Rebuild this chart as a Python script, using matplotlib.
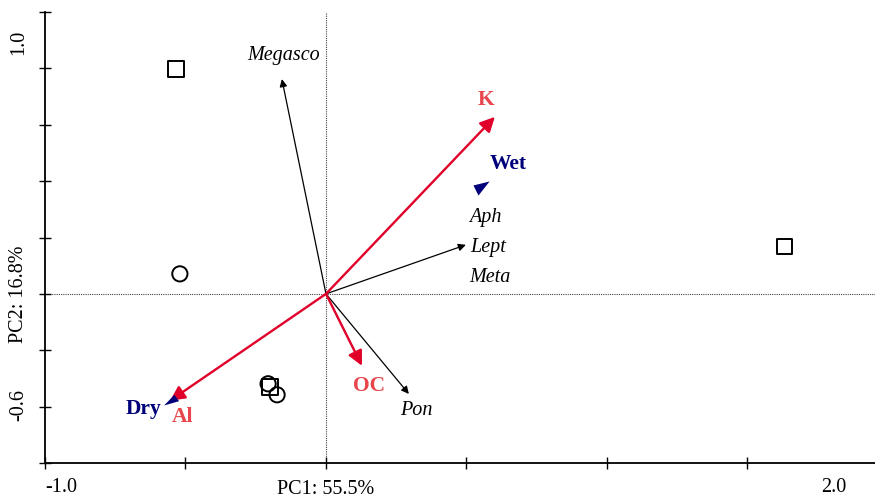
import matplotlib
matplotlib.use("Agg")
import matplotlib.pyplot as plt

plt.rcParams['font.family'] = ['Liberation Serif', 'DejaVu Serif']

# sample scores
square_x = [-0.534, 1.633, -0.199]
square_y = [0.798, 0.167, -0.330]
circle_x = [-0.520, -0.206, -0.174]
circle_y = [0.071, -0.319, -0.358]

# species arrows (black)
species = ["Megasco", "Lept", "Pon"]
species_x = [-0.157, 0.498, 0.295]
species_y = [0.762, 0.174, -0.355]
# species labels without a visible arrow
extra_species = ["Aph", "Meta"]
extra_x = [0.51, 0.51]
extra_y = [0.270, 0.058]

# environmental arrows (red)
env = ["K", "OC", "Al"]
env_x = [0.601, 0.128, -0.555]
env_y = [0.628, -0.255, -0.379]

# nominal variables (navy triangles)
nominal = ["Wet", "Dry"]
nom_x = [0.549, -0.548]
nom_y = [0.378, -0.376]

RED = "#e0002a"
RED_TXT = "#e8464c"
NAVY = "#00007a"

# triangle shapes as drawn in the original (pixel offsets, y up)
tri_wet = [(-7, 2), (9, 6), (-2, -8), (-7, 2)]
tri_dry = [(-8.4, -5), (1.9, 5.7), (6.6, -0.7), (-8.4, -5)]

fig = plt.figure(figsize=(8.75, 4.97), dpi=100)
ax = fig.add_axes([45 / 875, 34 / 497, 830 / 875, 451 / 497])
ax.set_xlim(-1.0, 1.954)
ax.set_ylim(-0.6, 1.0)

ax.axhline(0, color="#444444", lw=0.8, ls=(0, (1, 1)), zorder=1)
ax.axvline(0, color="#444444", lw=0.8, ls=(0, (1, 1)), zorder=1)

# species arrows
for name, x, y in zip(species, species_x, species_y):
    ax.annotate("", xy=(x, y), xytext=(0, 0),
                arrowprops=dict(arrowstyle="-|>", color="black", lw=0.9,
                                mutation_scale=11, shrinkA=0, shrinkB=0))
ax.text(-0.15, 0.847, "Megasco", style="italic", fontsize=14.5, ha="center", va="center")
ax.text(0.515, 0.163, "Lept", style="italic", fontsize=14.5, ha="left", va="center")
ax.text(0.32, -0.415, "Pon", style="italic", fontsize=14.5, ha="center", va="center")
for name, x, y in zip(extra_species, extra_x, extra_y):
    ax.text(x, y, name, style="italic", fontsize=14.5, ha="left", va="center")

# environmental arrows
for name, x, y in zip(env, env_x, env_y):
    ax.annotate("", xy=(x, y), xytext=(0, 0),
                arrowprops=dict(arrowstyle="-|>", color=RED, lw=1.7,
                                mutation_scale=22, shrinkA=0, shrinkB=0))
ax.text(0.57, 0.688, "K", color=RED_TXT, fontsize=15.5, fontweight="bold", ha="center", va="center")
ax.text(0.153, -0.326, "OC", color=RED_TXT, fontsize=15.5, fontweight="bold", ha="center", va="center")
ax.text(-0.512, -0.438, "Al", color=RED_TXT, fontsize=15.5, fontweight="bold", ha="center", va="center")

# nominal variables
ax.scatter(nom_x[0], nom_y[0], marker=tri_wet, s=170, color=NAVY, linewidths=0, zorder=4)
ax.scatter(nom_x[1], nom_y[1], marker=tri_dry, s=145, color=NAVY, linewidths=0, zorder=4)
ax.text(0.648, 0.46, "Wet", color=NAVY, fontsize=15.5, fontweight="bold", ha="center", va="center")
ax.text(-0.649, -0.409, "Dry", color=NAVY, fontsize=15.5, fontweight="bold", ha="center", va="center")

# samples
ax.scatter(square_x, square_y, marker="s", s=120, facecolors="none",
           edgecolors="black", linewidths=1.4, zorder=5)
ax.scatter(circle_x, circle_y, marker="o", s=120, facecolors="none",
           edgecolors="black", linewidths=1.4, zorder=5)

# axes styling
for side in ["top", "right"]:
    ax.spines[side].set_visible(False)
for side in ["left", "bottom"]:
    ax.spines[side].set_linewidth(1.3)
ax.set_xticks([-1.0, -0.5, 0.0, 0.5, 1.0, 1.5])
ax.set_yticks([-0.6, -0.4, -0.2, 0.0, 0.2, 0.4, 0.6, 0.8, 1.0])
ax.tick_params(direction="inout", length=9, width=1.0, labelbottom=False, labelleft=False)

fig.text(61 / 875, 1 - 487 / 497, "-1.0", fontsize=14.5, ha="center", va="center")
fig.text(834 / 875, 1 - 487 / 497, "2.0", fontsize=14.5, ha="center", va="center")
fig.text(326 / 875, 1 - 489 / 497, "PC1: 55.5%", fontsize=14.5, ha="center", va="center")
fig.text(19 / 875, 1 - 42 / 497, "1.0", fontsize=14.5, ha="center", va="center", rotation=90)
fig.text(19 / 875, 1 - 405 / 497, "-0.6", fontsize=14.5, ha="center", va="center", rotation=90)
fig.text(19 / 875, 1 - 294 / 497, "PC2: 16.8%", fontsize=14.5, ha="center", va="center", rotation=90)

fig.savefig("out.png", dpi=100)
